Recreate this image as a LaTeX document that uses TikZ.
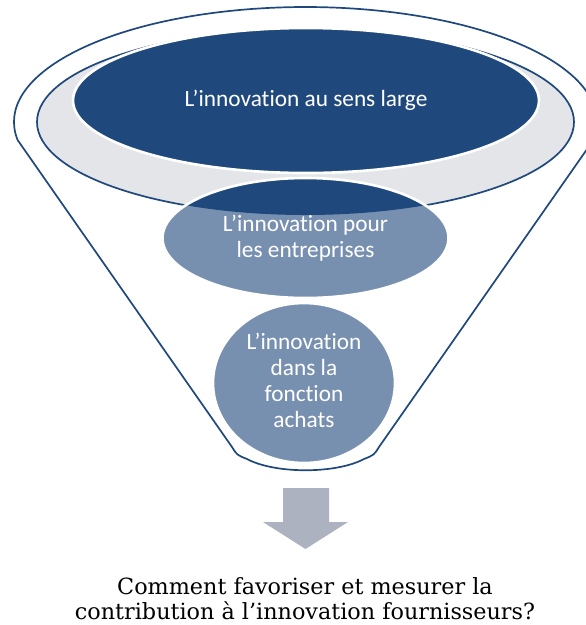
\documentclass[tikz,border=0pt]{standalone}
\usepackage{fontspec}
\newfontfamily\sansf[Ligatures=NoCommon]{Carlito}
\newfontfamily\seriff{DejaVu Serif}
\definecolor{darkblue}{RGB}{31,73,125}
\definecolor{midblue}{RGB}{120,144,176}
\definecolor{rimgray}{RGB}{228,229,233}
\definecolor{arrowgray}{RGB}{173,178,193}
\tikzset{
  funnelline/.style={draw=darkblue, line width=1.7pt},
  whiteborder/.style={draw=white, line width=2.6pt},
  intext/.style={text=white, font=\sansf\fontsize{23.3}{26}\selectfont, align=center, inner sep=0pt},
  bottomtext/.style={text=black, font=\seriff\fontsize{22.3}{25}\selectfont, align=center, inner sep=0pt}
}
\begin{document}
\begin{tikzpicture}[x=1pt, y=-1pt]
\useasboundingbox (0,0) rectangle (586,625);
\clip (0,0) rectangle (586,625);
% funnel body
\path[funnelline, fill=white]
  (17.6,140) arc[start angle=189, end angle=-9, x radius=291.5pt, y radius=115pt]
  -- (379,447) .. controls (374,455) .. (364,459)
  .. controls (336,474) and (275,474) .. (247,459)
  .. controls (237,455) .. (232,447) -- cycle;
% rim opening
\path[funnelline, fill=rimgray] (305.5,122) ellipse[x radius=268.5pt, y radius=93pt];
% top ellipse
\path[whiteborder, fill=darkblue] (306,100.5) ellipse[x radius=233pt, y radius=72.5pt];
% middle ellipse
\path[fill=midblue] (305.5,238) ellipse[x radius=143pt, y radius=60pt];
\begin{scope}
  \clip (305.5,122) ellipse[x radius=268.5pt, y radius=93pt];
  \path[fill=darkblue] (305.5,238) ellipse[x radius=143pt, y radius=60pt];
\end{scope}
\path[whiteborder] (305.5,238) ellipse[x radius=143pt, y radius=60pt];
% circle
\path[whiteborder, fill=midblue] (304,383) ellipse[x radius=91pt, y radius=80pt];
% arrow
\path[fill=arrowgray] (283,488) -- (329,488) -- (329,522) -- (348,522) -- (305.5,549) -- (263,522) -- (283,522) -- cycle;
% texts
\node[intext] (large) at (306,100) {L’innovation au sens large};
\node[intext] (entreprises) at (305.5,238) {L’innovation pour\\les entreprises};
\node[intext] (achats) at (304,380) {L’innovation\\dans la\\fonction\\achats};
\node[bottomtext] (question) at (305,599) {Comment favoriser et mesurer la\\contribution à l’innovation fournisseurs?};
\end{tikzpicture}
\end{document}
